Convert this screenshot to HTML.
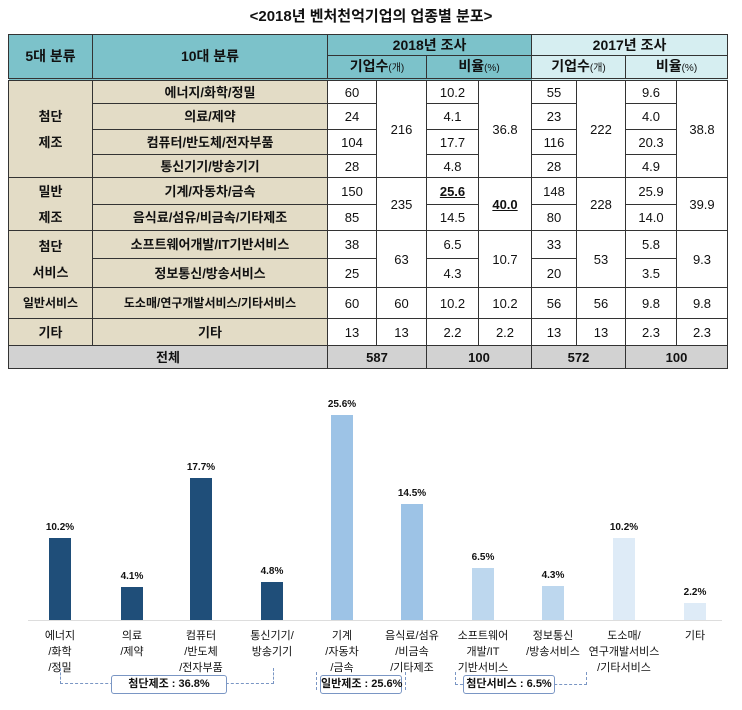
<!DOCTYPE html>
<html><head><meta charset="utf-8">
<style>
body{margin:0;width:742px;height:710px;background:#fff;position:relative;overflow:hidden;font-family:"Liberation Sans","Noto Sans CJK KR",sans-serif;color:#111}
.t{position:absolute;left:0;width:742px;top:5px;text-align:center;font-size:15px;font-weight:bold}
table{position:absolute;left:8px;top:34px;border-collapse:collapse;table-layout:fixed}
td{border:1px solid #333;text-align:center;font-size:13px;padding:0;line-height:13px}
.h1{background:#7cc2ca;font-weight:bold;font-size:14px}
.h2{background:#d6eef1;font-weight:bold;font-size:14px}
.k{background:#e3dcc6;font-weight:bold;font-size:13px}
.g{background:#d2d2d2;font-weight:bold}
small{font-size:10px;font-weight:normal}
.bar{position:absolute;width:22px}
.lb{position:absolute;font-size:10px;font-weight:bold;width:60px;text-align:center}
.xl{position:absolute;font-size:11px;width:90px;text-align:center;line-height:16px;top:628px}
.box{position:absolute;border:1px solid #7a96c4;border-radius:3px;background:#fff;font-size:11px;font-weight:bold;text-align:center;top:675px;height:17px;line-height:17px;white-space:nowrap}
.d{position:absolute;border-color:#7a96c4;border-style:dashed;border-width:0}
</style></head><body>
<div class="t">&lt;2018년 벤처천억기업의 업종별 분포&gt;</div>
<table>
<colgroup><col style="width:84px"><col style="width:235px"><col style="width:49px"><col style="width:50px"><col style="width:52px"><col style="width:53px"><col style="width:45px"><col style="width:49px"><col style="width:51px"><col style="width:51px"></colgroup>
<tr style="height:21px"><td class="h1" rowspan="2" style="border-bottom:3px double #333">5대 분류</td><td class="h1" rowspan="2" style="border-bottom:3px double #333">10대 분류</td><td class="h1" colspan="4">2018년 조사</td><td class="h2" colspan="4">2017년 조사</td></tr>
<tr style="height:24px"><td class="h1" colspan="2" style="border-bottom:3px double #333">기업수<small>(개)</small></td><td class="h1" colspan="2" style="border-bottom:3px double #333">비율<small>(%)</small></td><td class="h2" colspan="2" style="border-bottom:3px double #333">기업수<small>(개)</small></td><td class="h2" colspan="2" style="border-bottom:3px double #333">비율<small>(%)</small></td></tr>
<tr style="height:24px"><td class="k" rowspan="4">첨단<br><br>제조</td><td class="k">에너지/화학/정밀</td><td>60</td><td rowspan="4">216</td><td>10.2</td><td rowspan="4">36.8</td><td>55</td><td rowspan="4">222</td><td>9.6</td><td rowspan="4">38.8</td></tr>
<tr style="height:26px"><td class="k">의료/제약</td><td>24</td><td>4.1</td><td>23</td><td>4.0</td></tr>
<tr style="height:25px"><td class="k">컴퓨터/반도체/전자부품</td><td>104</td><td>17.7</td><td>116</td><td>20.3</td></tr>
<tr style="height:23px"><td class="k">통신기기/방송기기</td><td>28</td><td>4.8</td><td>28</td><td>4.9</td></tr>
<tr style="height:27px"><td class="k" rowspan="2">밀반<br><br>제조</td><td class="k">기계/자동차/금속</td><td>150</td><td rowspan="2">235</td><td><b><u>25.6</u></b></td><td rowspan="2"><b><u>40.0</u></b></td><td>148</td><td rowspan="2">228</td><td>25.9</td><td rowspan="2">39.9</td></tr>
<tr style="height:26px"><td class="k">음식료/섬유/비금속/기타제조</td><td>85</td><td>14.5</td><td>80</td><td>14.0</td></tr>
<tr style="height:28px"><td class="k" rowspan="2">첨단<br><br>서비스</td><td class="k">소프트웨어개발/IT기반서비스</td><td>38</td><td rowspan="2">63</td><td>6.5</td><td rowspan="2">10.7</td><td>33</td><td rowspan="2">53</td><td>5.8</td><td rowspan="2">9.3</td></tr>
<tr style="height:29px"><td class="k">정보통신/방송서비스</td><td>25</td><td>4.3</td><td>20</td><td>3.5</td></tr>
<tr style="height:31px"><td class="k" style="font-size:12px">일반서비스</td><td class="k" style="font-size:12px">도소매/연구개발서비스/기타서비스</td><td>60</td><td>60</td><td>10.2</td><td>10.2</td><td>56</td><td>56</td><td>9.8</td><td>9.8</td></tr>
<tr style="height:27px"><td class="k">기타</td><td class="k">기타</td><td>13</td><td>13</td><td>2.2</td><td>2.2</td><td>13</td><td>13</td><td>2.3</td><td>2.3</td></tr>
<tr style="height:23px"><td class="g" colspan="2">전체</td><td class="g" colspan="2">587</td><td class="g" colspan="2">100</td><td class="g" colspan="2">572</td><td class="g" colspan="2">100</td></tr>
</table>

<div style="position:absolute;left:28px;top:620px;width:694px;height:1px;background:#ddd"></div>
<div class="bar" style="left:49px;top:538px;height:82px;background:#1f4e79"></div>
<div class="bar" style="left:121px;top:587px;height:33px;background:#1f4e79"></div>
<div class="bar" style="left:190px;top:478px;height:142px;background:#1f4e79"></div>
<div class="bar" style="left:261px;top:582px;height:38px;background:#1f4e79"></div>
<div class="bar" style="left:331px;top:415px;height:205px;background:#9dc3e6"></div>
<div class="bar" style="left:401px;top:504px;height:116px;background:#9dc3e6"></div>
<div class="bar" style="left:472px;top:568px;height:52px;background:#bdd7ee"></div>
<div class="bar" style="left:542px;top:586px;height:34px;background:#bdd7ee"></div>
<div class="bar" style="left:613px;top:538px;height:82px;background:#deebf7"></div>
<div class="bar" style="left:684px;top:603px;height:17px;background:#deebf7"></div>
<div class="lb" style="left:30px;top:522px">10.2%</div>
<div class="lb" style="left:102px;top:571px">4.1%</div>
<div class="lb" style="left:171px;top:462px">17.7%</div>
<div class="lb" style="left:242px;top:566px">4.8%</div>
<div class="lb" style="left:312px;top:399px">25.6%</div>
<div class="lb" style="left:382px;top:488px">14.5%</div>
<div class="lb" style="left:453px;top:552px">6.5%</div>
<div class="lb" style="left:523px;top:570px">4.3%</div>
<div class="lb" style="left:594px;top:522px">10.2%</div>
<div class="lb" style="left:665px;top:587px">2.2%</div>
<div class="xl" style="left:15px">에너지<br>/화학<br>/정밀</div>
<div class="xl" style="left:87px">의료<br>/제약</div>
<div class="xl" style="left:156px">컴퓨터<br>/반도체<br>/전자부품</div>
<div class="xl" style="left:227px">통신기기/<br>방송기기</div>
<div class="xl" style="left:297px">기계<br>/자동차<br>/금속</div>
<div class="xl" style="left:367px">음식료/섬유<br>/비금속<br>/기타제조</div>
<div class="xl" style="left:438px">소프트웨어<br>개발/IT<br>기반서비스</div>
<div class="xl" style="left:508px">정보통신<br>/방송서비스</div>
<div class="xl" style="left:579px">도소매/<br>연구개발서비스<br>/기타서비스</div>
<div class="xl" style="left:650px">기타</div>
<div class="d" style="left:60px;top:668px;width:212px;height:15px;border-left-width:1px;border-right-width:1px;border-bottom-width:1px"></div>
<div class="box" style="left:111px;width:114px">첨단제조 : 36.8%</div>
<div class="d" style="left:316px;top:672px;width:88px;height:18px;border-left-width:1px;border-right-width:1px"></div>
<div class="box" style="left:320px;width:80px">일반제조 : 25.6%</div>
<div class="d" style="left:455px;top:672px;width:130px;height:12px;border-left-width:1px;border-right-width:1px;border-bottom-width:1px"></div>
<div class="box" style="left:463px;width:90px">첨단서비스 : 6.5%</div>
</body></html>
